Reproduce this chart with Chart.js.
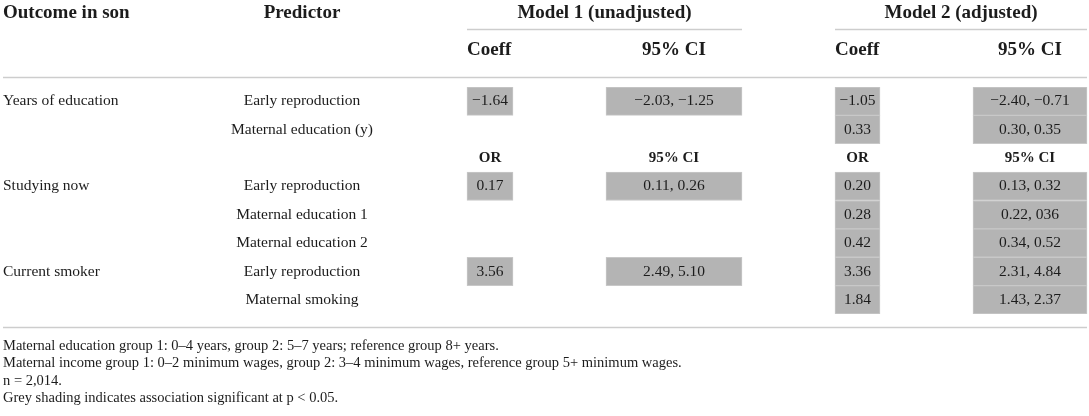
<!DOCTYPE html>
<html>
<head>
<meta charset="utf-8">
<script src="https://cdn.jsdelivr.net/npm/chart.js@4.4.1/dist/chart.umd.min.js"></script>
<style>
  html, body { margin: 0; padding: 0; background: #fff; }
  #wrap { width: 1089px; height: 416px; }
</style>
</head>
<body>
<div id="wrap"><canvas id="tbl" width="1089" height="416"></canvas></div>
<script>
/* ---- DATA --------------------------------------------------- */
// one entry per table row; row 2 is the OR / 95% CI sub-header row
const rowKeys    = ['r0', 'r1', 'r2', 'r3', 'r4', 'r5', 'r6', 'r7'];
const outcomes   = ['Years of education', '', '', 'Studying now', '', '', 'Current smoker', ''];
const predictors = ['Early reproduction', 'Maternal education (y)', '',
                    'Early reproduction', 'Maternal education 1', 'Maternal education 2',
                    'Early reproduction', 'Maternal smoking'];

const m1Coeff = [-1.64, null, null, 0.17, null, null, 3.56, null];
const m1CI    = ['−2.03, −1.25', null, null, '0.11, 0.26', null, null, '2.49, 5.10', null];
const m2Coeff = [-1.05, 0.33, null, 0.20, 0.28, 0.42, 3.36, 1.84];
const m2CI    = ['−2.40, −0.71', '0.30, 0.35', null, '0.13, 0.32', '0.22, 036',
                 '0.34, 0.52', '2.31, 4.84', '1.43, 2.37'];

// grey shading = significant at p < 0.05
const m1Sig = [true, false, false, true, false, false, true, false];
const m2Sig = [true, true, false, true, true, true, true, true];

const footnotes = [
  'Maternal education group 1: 0–4 years, group 2: 5–7 years; reference group 8+ years.',
  'Maternal income group 1: 0–2 minimum wages, group 2: 3–4 minimum wages, reference group 5+ minimum wages.',
  'n = 2,014.',
  'Grey shading indicates association significant at p < 0.05.'
];

/* ---- LAYOUT ------------------------------------------------- */
// column extents on the x scale (scale runs over the page width)
const COLS = {
  m1c: [467, 513], m1i: [606, 742],
  m2c: [835, 880], m2i: [973, 1087]
};
const SERIF = "'Liberation Serif', 'DejaVu Serif', serif";
const INK = '#1c1c1c';
const RULE = '#cdcdcd';
const SHADE = '#b4b4b4';

const fmt = v => (v < 0 ? '−' : '') + Math.abs(v).toFixed(2);

function cellBars(values, sig, col) {
  return values.map((v, i) => (v !== null && sig[i]) ? col : null);
}

function barSet(label, values, sig, col) {
  return {
    label,
    data: cellBars(values, sig, col),
    backgroundColor: SHADE,
    borderColor: '#c8c8c8',
    borderWidth: 1,
    borderSkipped: false,
    grouped: false,
    barPercentage: 1,
    categoryPercentage: 1
  };
}

/* ---- TEXT PLUGIN -------------------------------------------- */
const tableText = {
  id: 'tableText',
  afterDatasetsDraw(chart) {
    const { ctx, scales: { x, y } } = chart;
    const mid = c => (x.getPixelForValue(c[0]) + x.getPixelForValue(c[1])) / 2;
    const put = (t, px, py, font, align) => {
      ctx.font = font;
      ctx.textAlign = align || 'center';
      ctx.fillText(t, px, py);
    };
    ctx.save();
    ctx.fillStyle = INK;
    ctx.textBaseline = 'middle';

    const head = 'bold 19px ' + SERIF;
    const sub = 'bold 15px ' + SERIF;
    const body = '15.5px ' + SERIF;

    // header rows
    put('Outcome in son', 3, 13, head, 'left');
    put('Predictor', 302, 13, head);
    put('Model 1 (unadjusted)', (x.getPixelForValue(COLS.m1c[0]) + x.getPixelForValue(COLS.m1i[1])) / 2, 13, head);
    put('Model 2 (adjusted)', (x.getPixelForValue(COLS.m2c[0]) + x.getPixelForValue(COLS.m2i[1])) / 2, 13, head);
    put('Coeff', x.getPixelForValue(COLS.m1c[0]), 50, head, 'left');
    put('95% CI', mid(COLS.m1i), 50, head);
    put('Coeff', x.getPixelForValue(COLS.m2c[0]), 50, head, 'left');
    put('95% CI', mid(COLS.m2i), 50, head);

    // rules
    ctx.strokeStyle = RULE;
    ctx.lineWidth = 1.5;
    const rule = (x0, x1, yy) => { ctx.beginPath(); ctx.moveTo(x0, yy); ctx.lineTo(x1, yy); ctx.stroke(); };
    rule(x.getPixelForValue(COLS.m1c[0]), x.getPixelForValue(COLS.m1i[1]), 29.5);
    rule(x.getPixelForValue(COLS.m2c[0]), x.getPixelForValue(COLS.m2i[1]), 29.5);
    rule(3, 1087, 77.5);
    rule(3, 1087, 327.5);

    // body rows
    rowKeys.forEach((k, i) => {
      const py = y.getPixelForValue(i);
      if (outcomes[i]) put(outcomes[i], 3, py, body, 'left');
      if (predictors[i]) put(predictors[i], 302, py, body);
      if (m1Coeff[i] !== null) put(fmt(m1Coeff[i]), mid(COLS.m1c), py, body);
      if (m1CI[i] !== null) put(m1CI[i], mid(COLS.m1i), py, body);
      if (m2Coeff[i] !== null) put(fmt(m2Coeff[i]), mid(COLS.m2c), py, body);
      if (m2CI[i] !== null) put(m2CI[i], mid(COLS.m2i), py, body);
    });

    // odds-ratio sub-header
    const py2 = y.getPixelForValue(2);
    put('OR', mid(COLS.m1c), py2, sub);
    put('95% CI', mid(COLS.m1i), py2, sub);
    put('OR', mid(COLS.m2c), py2, sub);
    put('95% CI', mid(COLS.m2i), py2, sub);

    // footnotes
    footnotes.forEach((t, i) => put(t, 3, 346 + i * 17.5, '14.5px ' + SERIF, 'left'));
    ctx.restore();
  }
};

/* ---- CHART -------------------------------------------------- */
new Chart(document.getElementById('tbl'), {
  type: 'bar',
  data: {
    labels: rowKeys,
    datasets: [
      barSet('Model 1 coeff', m1Coeff, m1Sig, COLS.m1c),
      barSet('Model 1 CI', m1CI, m1Sig, COLS.m1i),
      barSet('Model 2 coeff', m2Coeff, m2Sig, COLS.m2c),
      barSet('Model 2 CI', m2CI, m2Sig, COLS.m2i)
    ]
  },
  options: {
    indexAxis: 'y',
    responsive: false,
    animation: false,
    devicePixelRatio: 1,
    layout: { padding: { top: 87, bottom: 102, left: 0, right: 0 } },
    plugins: { legend: { display: false }, tooltip: { enabled: false } },
    scales: {
      x: { type: 'linear', min: 0, max: 1089, display: false },
      y: { type: 'category', display: false, offset: true }
    }
  },
  plugins: [tableText]
});
</script>
</body>
</html>
